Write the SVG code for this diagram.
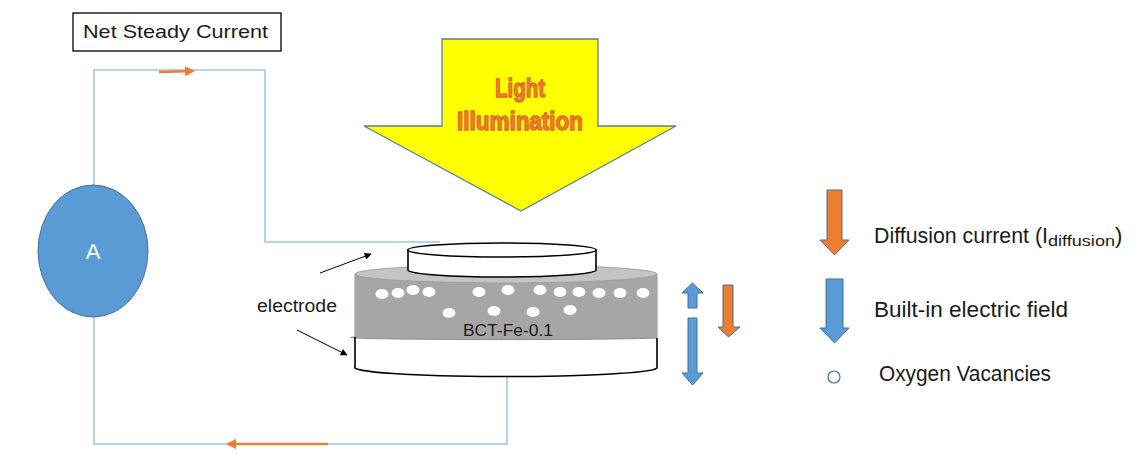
<svg xmlns="http://www.w3.org/2000/svg" width="1139" height="456" viewBox="0 0 1139 456">
  <style>
    .wire { fill: none; stroke: #9DC3E6; stroke-width: 1.5; }
    .flow { fill: none; stroke: #ED7D31; stroke-width: 2.5; }
    .blue { fill: #5B9BD5; stroke: #41719C; stroke-width: 1; }
    .orange { fill: #ED7D31; stroke: #41719C; stroke-width: 1; }
    .ptr { fill: none; stroke: #000; stroke-width: 1; }
    .lbl { font-family: "Liberation Sans", Arial, sans-serif; fill: #1a1a1a; }
    .vac { fill: #fff; stroke: none; }
  </style>
  <defs>
    <marker id="orangeHead" viewBox="0 0 10 10" refX="8" refY="5" markerWidth="4" markerHeight="4" orient="auto" markerUnits="strokeWidth">
      <path d="M0,0 L10,5 L0,10 Z" fill="#ED7D31"/>
    </marker>
    <marker id="blackHead" viewBox="0 0 10 10" refX="9" refY="5" markerWidth="9" markerHeight="7" orient="auto" markerUnits="userSpaceOnUse">
      <path d="M0,0 L10,5 L0,10 Z" fill="#000"/>
    </marker>
  </defs>

  <rect width="1139" height="456" fill="#fff"/>

  <!-- circuit wiring -->
  <g id="connectors">
    <path class="wire" d="M94,185 L94,70 L265,70 L265,242 L440,242"/>
    <path class="wire" d="M94,317 L94,444 L507,444 L507,374"/>
    <path class="flow" d="M159,72 L193,71" marker-end="url(#orangeHead)"/>
    <path class="flow" d="M328,444 L228,444" marker-end="url(#orangeHead)"/>
    <path class="ptr" d="M320,273 L371,254" marker-end="url(#blackHead)"/>
    <path class="ptr" d="M297,330 L347,355" marker-end="url(#blackHead)"/>
  </g>

  <!-- label box -->
  <g id="net-current-label">
    <rect x="73" y="13" width="208" height="38" fill="#fff" stroke="#000" stroke-width="1.3"/>
    <text class="lbl" x="83" y="38" font-size="19" textLength="185" lengthAdjust="spacingAndGlyphs">Net Steady Current</text>
  </g>

  <!-- ammeter -->
  <g id="ammeter">
    <ellipse class="blue" cx="93" cy="251" rx="55" ry="66"/>
    <text x="93" y="259" font-family="Liberation Sans, Arial, sans-serif" font-size="22" fill="#fff" text-anchor="middle">A</text>
  </g>

  <!-- incident light -->
  <g id="light-arrow">
    <polygon points="442,39 598,39 598,126 676,126 521,211 364,126 442,126" fill="#FFFF00" stroke="#5B7FA6" stroke-width="1.3"/>
    <g font-family="Liberation Sans, Arial, sans-serif" font-weight="bold" fill="#EE7F36" stroke="#E2691E" stroke-width="1.3" text-anchor="middle">
      <text x="520" y="97" font-size="25" textLength="50" lengthAdjust="spacingAndGlyphs">Light</text>
      <text x="520" y="130" font-size="25" textLength="126" lengthAdjust="spacingAndGlyphs">Illumination</text>
    </g>
  </g>

  <!-- sample disk with electrodes -->
  <g id="sample">
    <path d="M355,274 L355,337 A151,2 0 0 0 657,338 L657,274 Z" fill="#A6A6A6" stroke="none"/>
    <path d="M355,337 A151,2 0 0 0 657,338 L657,368 A151,9 0 0 1 355,367 Z" fill="#fff" stroke="none"/>
    <path d="M355,337 A151,2 0 0 0 657,338" fill="none" stroke="#8c8c8c" stroke-width="1"/>
    <path d="M355,337 L355,367 A151,9 0 0 0 657,368 L657,338" fill="none" stroke="#000" stroke-width="1.6"/>
    <path d="M355,274 L355,337 M657,274 L657,338" fill="none" stroke="#999" stroke-width="1"/>
    <ellipse cx="506" cy="274" rx="151" ry="9" fill="#C4C4C4" stroke="#A0A0A0" stroke-width="1"/>
    <!-- oxygen vacancies -->
    <g id="vacancies">
      <ellipse class="vac" cx="382" cy="294" rx="6.5" ry="5"/>
      <ellipse class="vac" cx="398" cy="293" rx="6.5" ry="5"/>
      <ellipse class="vac" cx="413" cy="290" rx="6.5" ry="5"/>
      <ellipse class="vac" cx="429" cy="292" rx="6.5" ry="5"/>
      <ellipse class="vac" cx="479" cy="292" rx="6.5" ry="5"/>
      <ellipse class="vac" cx="508" cy="290" rx="6.5" ry="5"/>
      <ellipse class="vac" cx="540" cy="290" rx="6.5" ry="5"/>
      <ellipse class="vac" cx="560" cy="292" rx="6.5" ry="5"/>
      <ellipse class="vac" cx="579" cy="292" rx="6.5" ry="5"/>
      <ellipse class="vac" cx="599" cy="293" rx="6.5" ry="5"/>
      <ellipse class="vac" cx="620" cy="293" rx="6.5" ry="5"/>
      <ellipse class="vac" cx="643" cy="293" rx="6.5" ry="5"/>
      <ellipse class="vac" cx="449" cy="313" rx="6.5" ry="5"/>
      <ellipse class="vac" cx="494" cy="311" rx="6.5" ry="5"/>
      <ellipse class="vac" cx="533" cy="312" rx="6.5" ry="5"/>
      <ellipse class="vac" cx="570" cy="310" rx="6.5" ry="5"/>
    </g>
    <text class="lbl" x="463" y="336" font-size="17" textLength="90" lengthAdjust="spacingAndGlyphs">BCT-Fe-0.1</text>
    <!-- top electrode -->
    <path d="M408,250 L408,270 A94,7 0 0 0 596,270 L596,250 Z" fill="#fff" stroke="#000" stroke-width="1.6"/>
    <ellipse cx="502" cy="250" rx="94" ry="7" fill="#fff" stroke="#000" stroke-width="1.6"/>
  </g>

  <g id="electrode-label">
    <text class="lbl" x="257" y="312" font-size="18" textLength="80" lengthAdjust="spacingAndGlyphs">electrode</text>
  </g>

  <!-- field and current arrows beside the sample -->
  <g id="sample-arrows">
    <polygon class="blue" points="692.5,283 703,293 697,293 697,308 688,308 688,293 682,293"/>
    <polygon class="blue" points="688,318 697,318 697,373 703,373 692.5,385 682,373 688,373"/>
    <polygon class="orange" points="723,285 733,285 733,327 740,327 728.5,337 718,327 723,327"/>
  </g>

  <!-- legend -->
  <g id="legend-diffusion">
    <polygon class="orange" points="827,190 842,190 842,240 849,240 834.5,255 820,240 827,240"/>
    <text class="lbl" x="874" y="243" font-size="22" textLength="174" lengthAdjust="spacingAndGlyphs">Diffusion current (I</text>
    <text class="lbl" x="1048" y="246" font-size="14.5" textLength="67" lengthAdjust="spacingAndGlyphs">diffusion</text>
    <text class="lbl" x="1115" y="243" font-size="22">)</text>
  </g>
  <g id="legend-field">
    <polygon class="blue" points="826,279 843,279 843,328 849,328 834.5,343 820,328 826,328"/>
    <text class="lbl" x="874" y="317" font-size="22" textLength="194" lengthAdjust="spacingAndGlyphs">Built-in electric field</text>
  </g>
  <g id="legend-vacancy">
    <circle cx="834" cy="377" r="6" fill="#fff" stroke="#41719C" stroke-width="1.2"/>
    <text class="lbl" x="879" y="381" font-size="22" textLength="172" lengthAdjust="spacingAndGlyphs">Oxygen Vacancies</text>
  </g>
</svg>
